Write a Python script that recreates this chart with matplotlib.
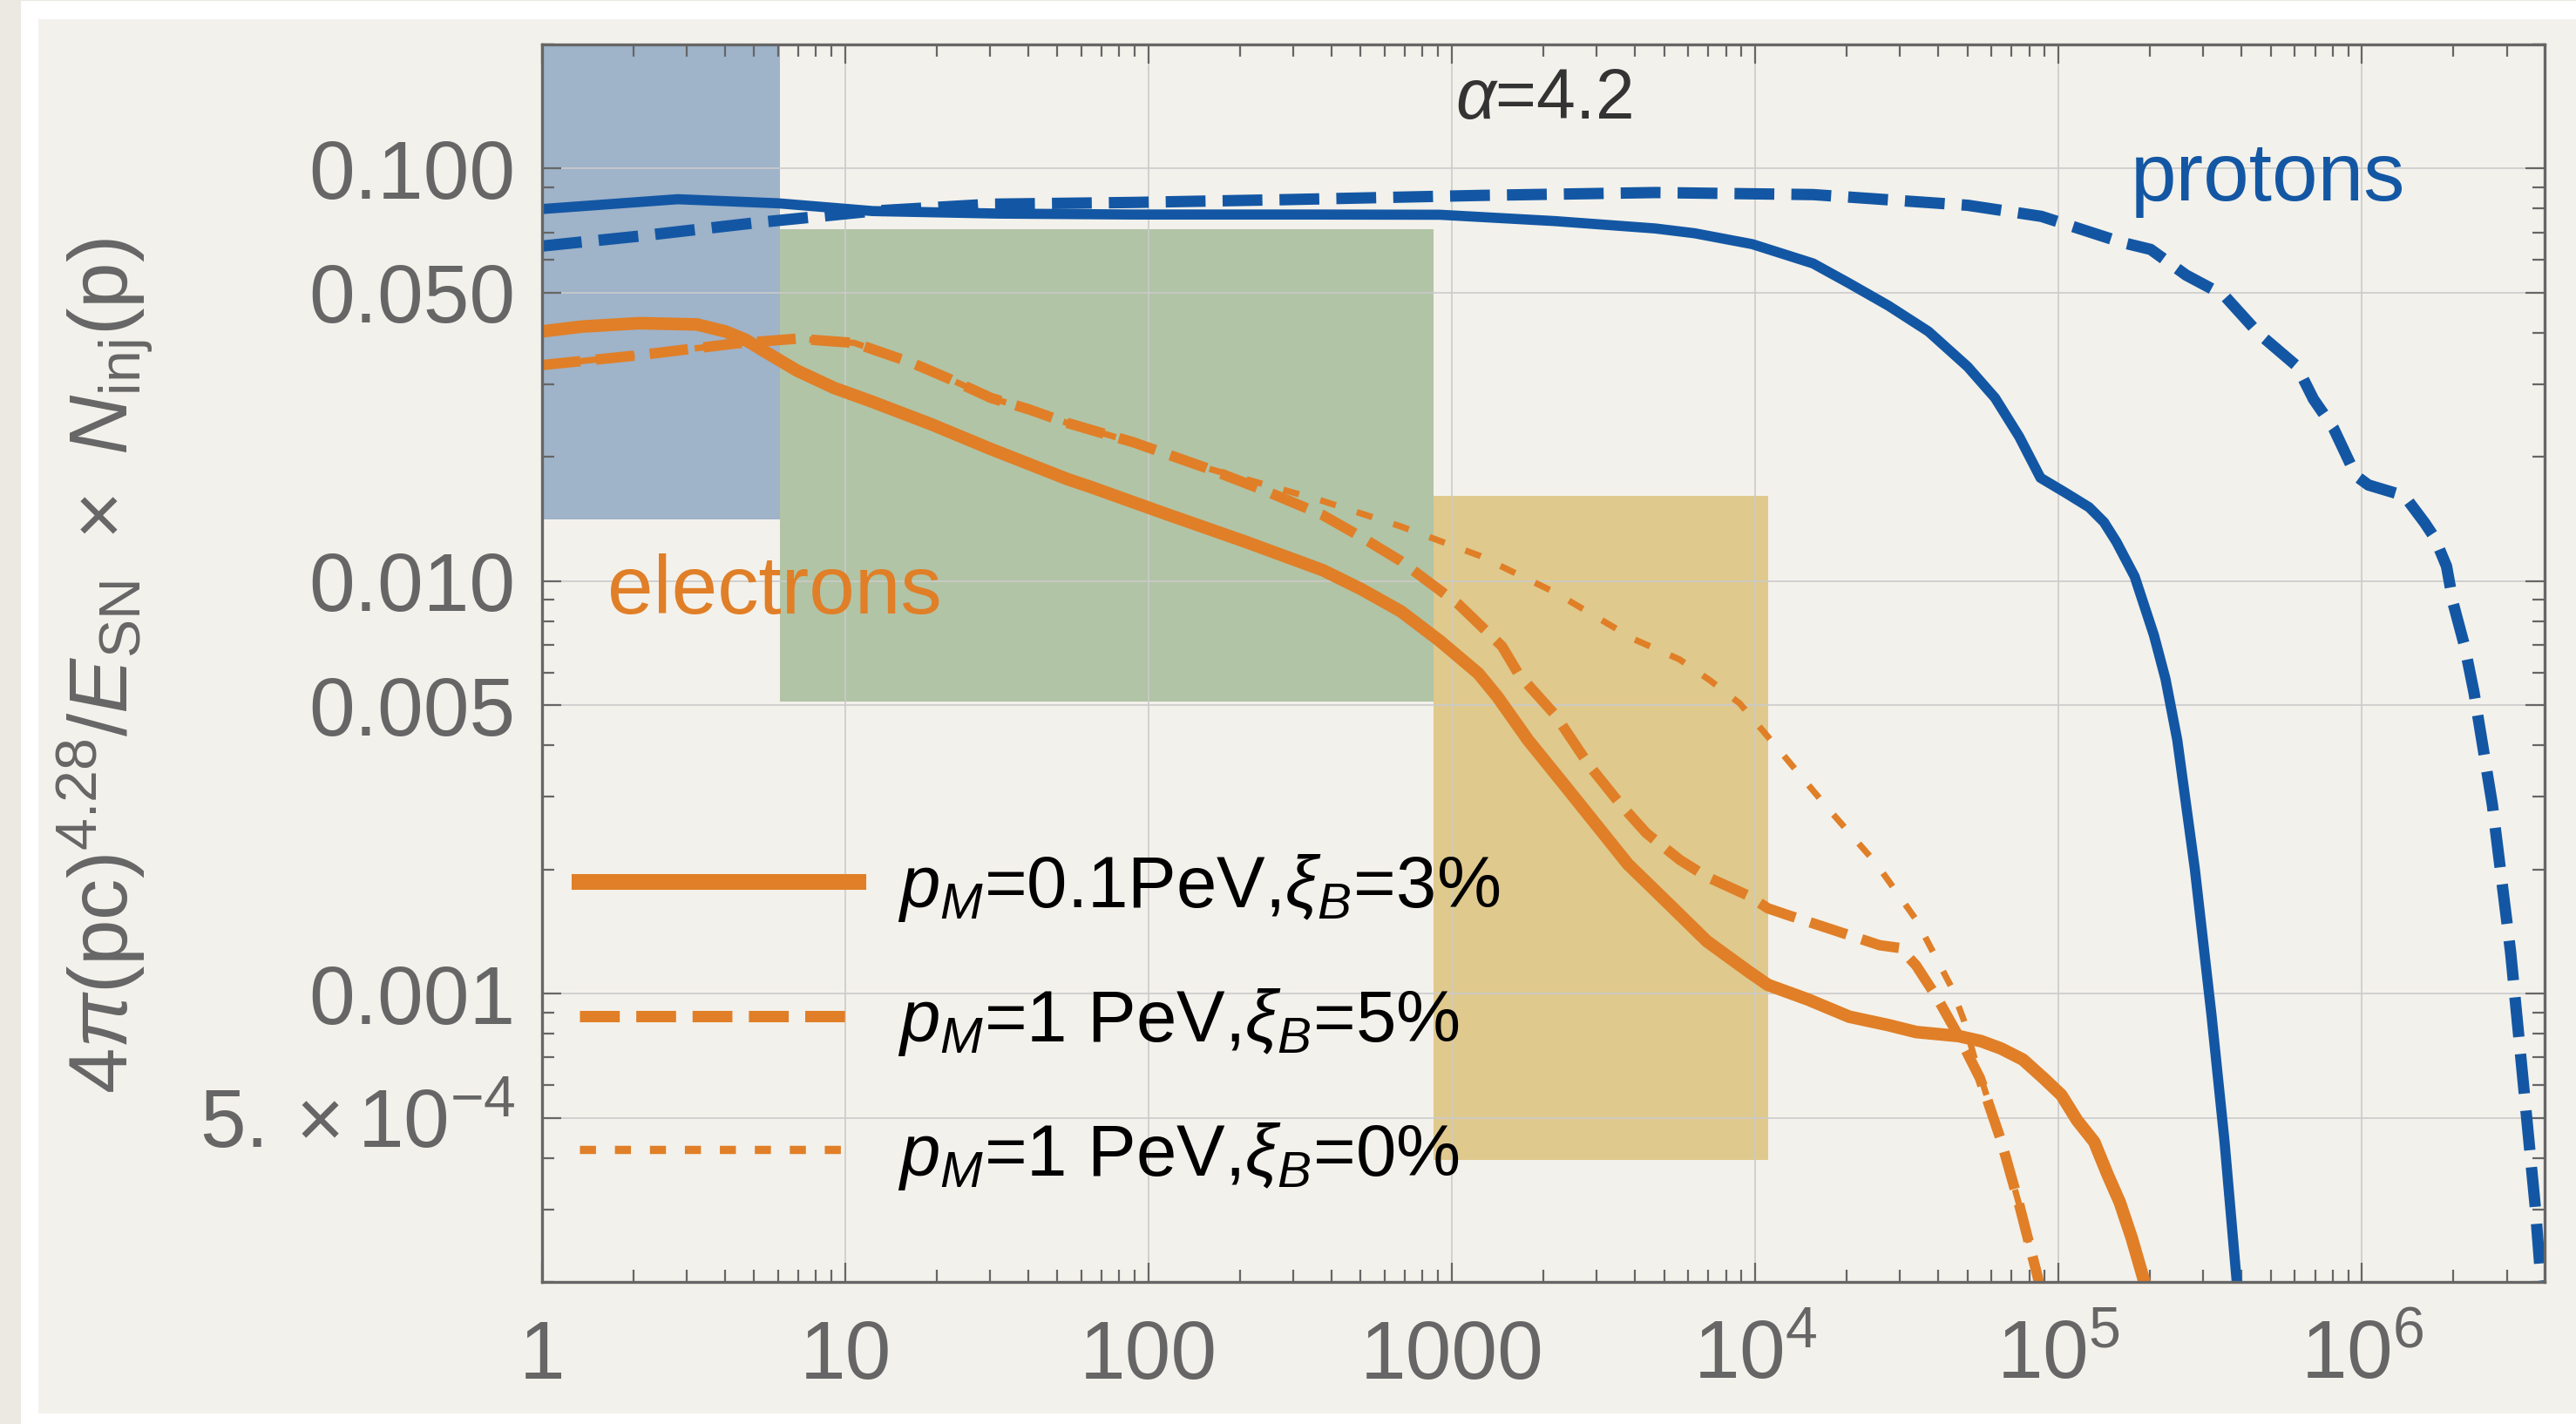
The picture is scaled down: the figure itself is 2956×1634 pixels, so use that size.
import numpy as np
import matplotlib.pyplot as plt
from matplotlib.patches import Rectangle
from matplotlib.lines import Line2D

plt.rcParams['font.family'] = ['Liberation Sans', 'DejaVu Sans']
plt.rcParams['mathtext.fontset'] = 'custom'
plt.rcParams['mathtext.rm'] = 'Liberation Sans'
plt.rcParams['mathtext.it'] = 'Liberation Sans:italic'
plt.rcParams['mathtext.bf'] = 'Liberation Sans:bold'

# --- spectra: momentum p (GeV/c) vs 4 pi (pc)^4.28 / E_SN * N_inj(p) ---
# protons, p_M = 0.1 PeV
p_prot_lo = [1, 2.8, 6, 12.3, 32, 89, 316, 912, 2190, 4680, 6310, 9770, 1.55e4,
             2.04e4, 2.75e4, 3.72e4, 5.01e4, 6.17e4, 7.41e4, 8.71e4, 1.05e5,
             1.26e5, 1.41e5, 1.55e5, 1.78e5, 2.06e5, 2.25e5, 2.46e5, 2.81e5,
             3.19e5, 3.52e5, 3.86e5, 3.98e5]
n_prot_lo = [0.0798, 0.0843, 0.0824, 0.0789, 0.0778, 0.0774, 0.0774, 0.0773,
             0.0746, 0.0716, 0.0697, 0.0656, 0.0589, 0.0527, 0.0465, 0.0403,
             0.0331, 0.0278, 0.0224, 0.0178, 0.0164, 0.0151, 0.0139, 0.01245,
             0.01026, 0.0074, 0.00579, 0.00412, 0.00201, 8.87e-4, 4.40e-4,
             2.02e-4, 1.58e-4]

# protons, p_M = 1 PeV
p_prot_hi = [1, 2.09, 5.13, 12.3, 30.2, 89.1, 282, 1230, 4680, 1.55e4, 5.01e4,
             8.77e4, 1.62e5, 2.01e5, 2.63e5, 3.51e5, 4.57e5, 6.10e5, 6.92e5,
             8.05e5, 9.55e5, 1.05e6, 1.38e6, 1.61e6, 1.74e6, 1.90e6, 2.0e6,
             2.18e6, 2.34e6, 2.69e6, 3.09e6, 3.39e6, 3.72e6, 3.89e6, 4.07e6]
n_prot_hi = [0.0649, 0.0686, 0.0740, 0.0789, 0.0820, 0.0828, 0.0841, 0.0861,
             0.0875, 0.0865, 0.0815, 0.0766, 0.0662, 0.0637, 0.0552, 0.0493,
             0.0398, 0.0332, 0.0276, 0.0235, 0.0180, 0.0171, 0.0161, 0.01384,
             0.0127, 0.01086, 0.00881, 0.00695, 0.00537, 0.00287, 0.00126,
             6.24e-4, 3.08e-4, 2.02e-4, 1.58e-4]

# electrons, p_M = 0.1 PeV, xi_B = 3%
p_el_a = [1, 1.35, 2.09, 3.24, 4.02, 4.68, 5.40, 6.92, 9.18, 12.3, 19.2, 30.2,
          54.1, 64.6, 115, 209, 376, 501, 678, 912, 1222, 1410, 1780, 2400,
          3800, 5140, 6920, 9440, 1.1e4, 1.49e4, 2.04e4, 2.74e4, 3.39e4,
          4.68e4, 5.55e4, 6.46e4, 7.62e4, 8.91e4, 1.02e5, 1.15e5, 1.31e5,
          1.45e5, 1.59e5, 1.74e5, 1.91e5, 2.0e5]
n_el_a = [0.0403, 0.0414, 0.0422, 0.0419, 0.0403, 0.0385, 0.0361, 0.0324,
          0.0294, 0.0272, 0.0240, 0.0209, 0.01766, 0.0169, 0.01452, 0.01245,
          0.01062, 0.00957, 0.00845, 0.00716, 0.00597, 0.00525, 0.00412,
          0.00314, 0.00206, 0.00166, 0.00134, 0.001135, 0.00105, 9.68e-4,
          8.79e-4, 8.39e-4, 8.07e-4, 7.89e-4, 7.67e-4, 7.36e-4, 6.92e-4,
          6.24e-4, 5.68e-4, 4.93e-4, 4.37e-4, 3.64e-4, 3.12e-4, 2.56e-4,
          2.02e-4, 1.74e-4]

# electrons, p_M = 1 PeV, xi_B = 5%
p_el_b = [1, 2.09, 4.37, 6.92, 10.7, 16.6, 22.3, 30.2, 40.2, 53.7, 89.1, 155,
          242, 372, 505, 676, 1050, 1462, 1660, 2198, 2820, 3573, 4370, 5636,
          6920, 9440, 1.1e4, 1.28e4, 1.74e4, 2.57e4, 3.0e4, 3.39e4, 3.98e4,
          4.68e4, 5.5e4, 6.46e4, 7.41e4, 8.51e4, 8.91e4]
n_el_b = [0.0334, 0.0353, 0.0377, 0.0387, 0.0378, 0.0338, 0.0308, 0.0278,
          0.0261, 0.0242, 0.0217, 0.0188, 0.01656, 0.0145, 0.01276, 0.0112,
          0.00879, 0.00695, 0.00594, 0.00472, 0.00359, 0.00289, 0.00245,
          0.00211, 0.00192, 0.00173, 0.00161, 0.00155, 0.00144, 0.00131,
          0.00129, 0.00117, 9.75e-4, 7.89e-4, 6.24e-4, 4.40e-4, 3.08e-4,
          2.07e-4, 1.78e-4]

# electrons, p_M = 1 PeV, xi_B = 0%
p_el_c = [1, 2.09, 4.37, 6.92, 10.7, 16.6, 22.3, 30.2, 40.2, 53.7, 89.1, 155,
          372, 676, 1230, 2190, 3980, 5620, 7080, 8890, 1.24e4, 1.73e4, 2.50e4,
          3.39e4, 4.42e4, 4.86e4, 5.25e4, 6.46e4, 7.41e4, 8.51e4, 8.91e4]
n_el_c = [0.0334, 0.0353, 0.0377, 0.0387, 0.0378, 0.0338, 0.0308, 0.0278,
          0.0261, 0.0242, 0.0217, 0.0188, 0.01567, 0.01358, 0.01153, 0.00938,
          0.00723, 0.00646, 0.00575, 0.00505, 0.00378, 0.00282, 0.00207,
          0.00151, 0.00104, 8.65e-4, 7.08e-4, 4.40e-4, 3.08e-4, 2.07e-4,
          1.78e-4]

legend_labels = [r'$p_M$=0.1PeV,$\xi_B$=3%',
                 r'$p_M$=1 PeV,$\xi_B$=5%',
                 r'$p_M$=1 PeV,$\xi_B$=0%']

# shaded momentum bands
band_x0 = [1, 6.1, 871]
band_x1 = [6.1, 871, 1.1e4]
band_y0 = [0.0141, 0.0051, 3.95e-4]
band_y1 = [0.25, 0.0714, 0.0161]
band_colors = ['#9fb3c9', '#b1c4a6', '#dfc98d']

x_major = [1, 10, 100, 1000, 1e4, 1e5, 1e6]
x_ticklabels = ['1', '10', '100', '1000', r'$10^{4}$', r'$10^{5}$', r'$10^{6}$']
y_major = [5e-4, 0.001, 0.005, 0.01, 0.05, 0.1]
y_ticklabels = [r'$5.\times10^{-4}$', '0.001', '0.005', '0.010', '0.050', '0.100']

blue = '#1357a4'
orange = '#e07f27'
grey = '#666666'
paper = '#f3f1eb'

W, H = 2956, 1634
fig = plt.figure(figsize=(W / 200, H / 200), dpi=200, facecolor='#ece9e2')

# white card with the paper sheet on top
fig.add_artist(Rectangle((25 / W, 0), 1 - 25 / W, 1 - 2 / H,
                         transform=fig.transFigure, color='white', zorder=-10))
fig.add_artist(Rectangle((45 / W, 14 / H), 1 - 45 / W, 1 - 23 / H - 14 / H,
                         transform=fig.transFigure, color=paper, zorder=-9))

ax = fig.add_axes([622 / W, 163 / H, 2298 / W, 1420 / H])
ax.set_facecolor('none')
ax.set_xscale('log')
ax.set_yscale('log')
ax.set_xlim(1, 4e6)
ax.set_ylim(2e-4, 0.2)

for x0, x1, y0, y1, c in zip(band_x0, band_x1, band_y0, band_y1, band_colors):
    ax.add_patch(Rectangle((x0, y0), x1 - x0, y1 - y0, color=c, lw=0, zorder=1))

ax.plot(p_prot_lo, n_prot_lo, color=blue, lw=4.2, zorder=3)
ax.plot(p_prot_hi, n_prot_hi, color=blue, lw=4.7, dashes=(3.5, 1.5), zorder=3)
ax.plot(p_el_c, n_el_c, color=orange, lw=2.6, dashes=(2.6, 3.5), zorder=3)
ax.plot(p_el_b, n_el_b, color=orange, lw=4.3, dashes=(3.7, 1.5), zorder=3)
ax.plot(p_el_a, n_el_a, color=orange, lw=5.2, zorder=3)

# ticks
x_minor = [m * 10 ** k for k in range(7) for m in range(2, 10) if m * 10 ** k < 4e6]
y_minor = [m * 10.0 ** k for k in range(-4, 0) for m in (2, 3, 4, 6, 7, 8, 9)
           if 2e-4 <= m * 10.0 ** k <= 0.2] + [0.2]
ax.set_xticks(x_major)
ax.set_xticklabels(x_ticklabels)
ax.set_xticks(x_minor, minor=True)
ax.set_yticks(y_major)
ax.set_yticklabels(y_ticklabels)
ax.set_yticks(y_minor, minor=True)
ax.tick_params(which='both', direction='in', top=True, right=True,
               color=grey, width=0.8, labelcolor=grey, labelsize=34)
ax.tick_params(which='major', length=8)
ax.tick_params(which='minor', length=5)
ax.tick_params(axis='x', which='major', pad=15)
ax.tick_params(axis='y', which='major', pad=11)
ax.yaxis.set_minor_formatter(plt.NullFormatter())
ax.xaxis.set_minor_formatter(plt.NullFormatter())
ax.grid(True, which='major', color='#cbcbcb', lw=0.6)
for s in ax.spines.values():
    s.set_color(grey)
    s.set_linewidth(1.2)
    s.set_zorder(4)

ax.text(0.5, 0.940, r'$\alpha$=4.2', transform=ax.transAxes, ha='center',
        va='baseline', fontsize=29, color='#333333')
ax.text(0.7934, 0.874, 'protons', transform=ax.transAxes, ha='left',
        va='baseline', fontsize=34, color=blue)
ax.text(0.0326, 0.5404, 'electrons', transform=ax.transAxes, ha='left',
        va='baseline', fontsize=34, color=orange)

handles = [Line2D([], [], color=orange, lw=6.5),
           Line2D([], [], color=orange, lw=4.7, dashes=(3.5, 1.45)),
           Line2D([], [], color=orange, lw=3.4, dashes=(1.95, 2.3))]
ax.legend(handles, legend_labels, loc='upper left', bbox_to_anchor=(0.0187, 0.347),
          frameon=False, fontsize=30, handlelength=3.84, handletextpad=0.54,
          labelspacing=0.86, borderpad=0, borderaxespad=0)

fig.text(121 / W, 0.5324,
         r'$4\pi(\mathrm{pc})^{4.28}/E_{\mathrm{SN}}\ \times\ N_{\mathrm{inj}}(\mathrm{p})$',
         rotation=90, ha='center', va='center', fontsize=34, color=grey)

fig.savefig('out.png', dpi=200, facecolor=fig.get_facecolor())
